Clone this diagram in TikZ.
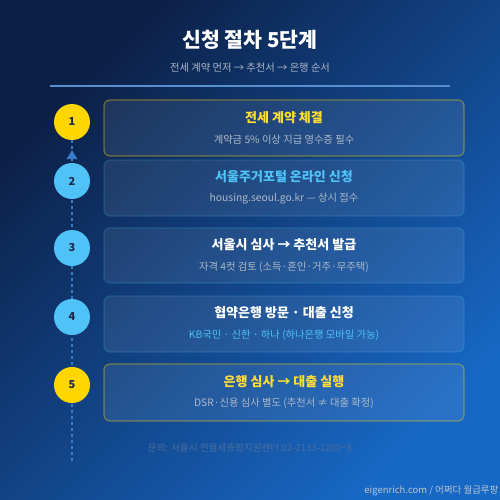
\documentclass[tikz,border=0pt]{standalone}
\usepackage{fontspec}
\setmainfont{Noto Sans CJK KR}
\usetikzlibrary{positioning}

\definecolor{bgdark}{HTML}{0C1F45}
\definecolor{bgbright}{HTML}{1767C4}
\definecolor{stepyellow}{HTML}{FFD600}
\definecolor{stepblue}{HTML}{4FC3F7}
\definecolor{numink}{HTML}{1A2B4C}
\definecolor{subgrey}{HTML}{AEB9C8}
\definecolor{linkblue}{HTML}{3A7BC8}
\definecolor{footink}{HTML}{4D6E9E}

\tikzset{
  stepdot/.style={circle, minimum size=36pt, inner sep=0pt, font=\fontsize{11}{13}\selectfont\bfseries, text=numink},
  stepbox/.style={rectangle, rounded corners=6pt, minimum width=360pt, fill=white, fill opacity=0.08, text opacity=1, line width=1.2pt},
  goldedge/.style={draw=stepyellow, draw opacity=0.38},
  blueedge/.style={draw=stepblue, draw opacity=0.2},
  boxtitle/.style={font=\fontsize{13}{15}\selectfont\bfseries},
  boxsub/.style={font=\fontsize{10.3}{12}\selectfont, text=subgrey}
}

\begin{document}
\begin{tikzpicture}[x=1pt, y=-1pt]
			%%%%% START %%%%%
			
			\shade[top color=bgdark, bottom color=bgbright, shading angle=45] (0, 0) rectangle (500, 500);
			\useasboundingbox (0, 0) rectangle (500, 500);
			
			\node[font=\fontsize{20.5}{24}\selectfont\bfseries, text=white] (title) at (250, 40) {신청 절차 5단계};
			\node[font=\fontsize{10.3}{12}\selectfont, text=subgrey] (lead) at (250, 68) {전세 계약 먼저 → 추천서 → 은행 순서};
			\draw[line width=1.5pt, color=linkblue!85!white] (50, 86) -- (450, 86);
			
			%%%%% boxes %%%%%
			\node[stepbox, goldedge, minimum height=56pt] (b1) at (284, 128) {};
			\node[stepbox, blueedge, minimum height=56pt] (b2) at (284, 188) {};
			\node[stepbox, blueedge, minimum height=55pt] (b3) at (284, 255.5) {};
			\node[stepbox, blueedge, minimum height=56pt] (b4) at (284, 324) {};
			\node[stepbox, goldedge, minimum height=57pt] (b5) at (284, 392.5) {};
			
			\node[boxtitle, text=stepyellow!80!white] (t1) at ([yshift=10pt]b1.center) {전세 계약 체결};
			\node[boxsub] (s1) at ([yshift=-12pt]b1.center) {계약금 5\% 이상 지급 영수증 필수};
			
			\node[boxtitle, text=stepblue] (t2) at ([yshift=11pt]b2.center) {서울주거포털 온라인 신청};
			\node[boxsub] (s2) at ([yshift=-11pt]b2.center) {housing.seoul.go.kr — 상시 접수};
			
			\node[boxtitle, text=white] (t3) at ([yshift=10.5pt]b3.center) {서울시 심사 → 추천서 발급};
			\node[boxsub] (s3) at ([yshift=-11.5pt]b3.center) {자격 4컷 검토 (소득·혼인·거주·무주택)};
			
			\node[boxtitle, text=white] (t4) at ([yshift=11pt]b4.center) {협약은행 방문 · 대출 신청};
			\node[boxsub, text=stepblue] (s4) at ([yshift=-11pt]b4.center) {KB국민 · 신한 · 하나 (하나은행 모바일 가능)};
			
			\node[boxtitle, text=stepyellow!80!white] (t5) at ([yshift=10.5pt]b5.center) {은행 심사 → 대출 실행};
			\node[boxsub] (s5) at ([yshift=-10.5pt]b5.center) {DSR·신용 심사 별도 (추천서 ≠ 대출 확정)};
			
			%%%%% timeline %%%%%
			\coordinate (tail) at (72, 463);
			\draw[line width=1.2pt, color=linkblue, dash pattern=on 3pt off 3pt] (72, 140) -- (tail);
			
			\node[stepdot, fill=stepyellow] (c1) at (72, 122) {1};
			\node[stepdot, fill=stepblue] (c2) at (72, 181) {2};
			\node[stepdot, fill=stepblue] (c3) at (72, 248) {3};
			\node[stepdot, fill=stepblue] (c4) at (72, 317) {4};
			\node[stepdot, fill=stepyellow] (c5) at (72, 385) {5};
			
			\fill[color=linkblue] ([yshift=-10pt]c1.south) -- ([xshift=-5.5pt, yshift=-19pt]c1.south) -- ([xshift=5.5pt, yshift=-19pt]c1.south) -- cycle;
			
			%%%%% foot %%%%%
			\node[font=\fontsize{9.6}{11}\selectfont, text=footink] (ask) at (250, 448) {문의: 서울시 전월세종합지원센터 02-2133-1200\textasciitilde 8};
			\node[font=\fontsize{9.5}{11}\selectfont, text=subgrey!85!white, anchor=east] (credit) at (502, 491) {eigenrich.com / 어쩌다 월급루팡};
			
			%%%%% END %%%%%
\end{tikzpicture}
\end{document}
